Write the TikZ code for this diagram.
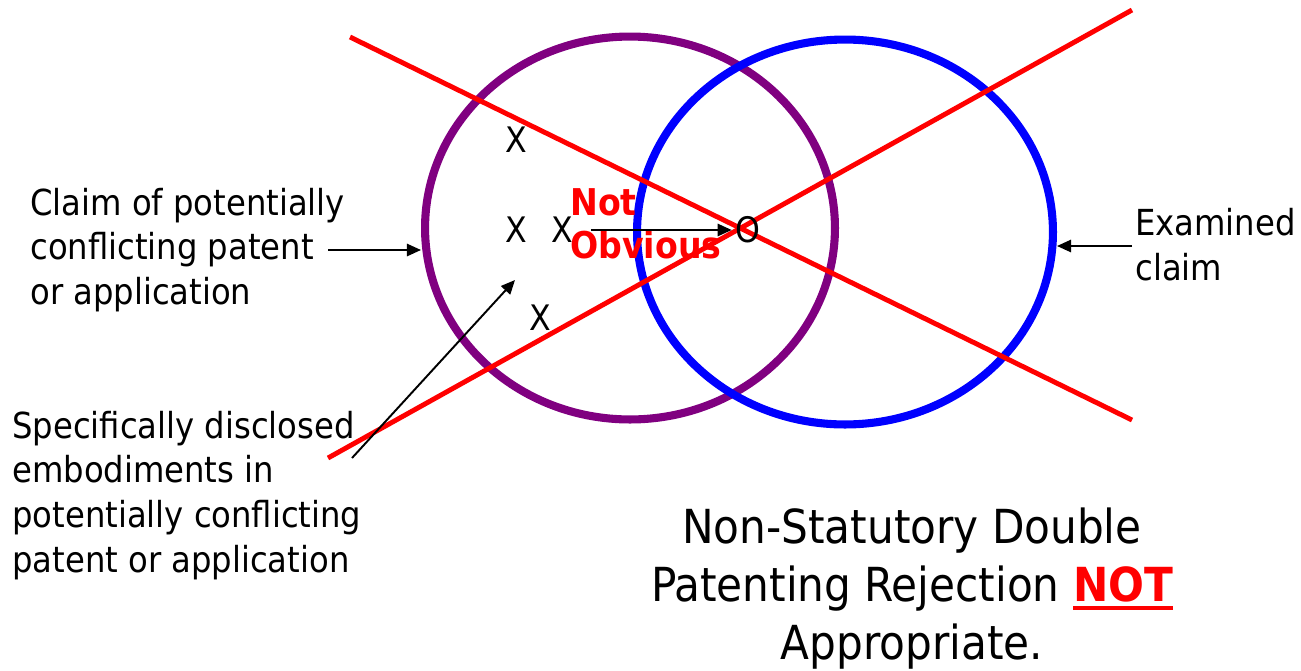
\documentclass[tikz,border=0pt]{standalone}
\usepackage{fontspec}
\setmainfont{DejaVu Sans Condensed}
\usepackage{xcolor}
\usetikzlibrary{arrows.meta,positioning,shapes.geometric}
\definecolor{setpurple}{RGB}{128,0,128}
\definecolor{setblue}{RGB}{0,0,255}
\definecolor{crossred}{RGB}{255,0,0}
\newcommand{\redstress}[1]{{\color{crossred}\bfseries\setbox0\hbox{#1}\rlap{\rule[-4.5pt]{\wd0}{2pt}}\box0}}

\begin{document}
\begin{tikzpicture}[x=0.02cm,y=-0.02cm,
  lbl/.style={align=left,inner sep=0pt,font=\fontsize{20.4}{25.5}\selectfont},
  hit/.style={inner sep=2pt,font=\fontsize{20}{22}\selectfont},
  ptr/.style={-{Triangle[length=8pt,width=7pt]},line width=1.1pt},
  cross/.style={crossred,line width=2.8pt},
  claimset/.style={ellipse,draw,line width=4.6pt,inner sep=0pt}]
\useasboundingbox (0,0) rectangle (1301,670);
\node[claimset,draw=setpurple,minimum width=8.2cm,minimum height=7.66cm] (conflict) at (630,228) {};
\node[claimset,draw=setblue,minimum width=8.32cm,minimum height=7.7cm] (examined) at (845,232) {};
\draw[cross] (350,37) -- (1132,420);
\draw[cross] (328,458) -- (1132,10);
\foreach \n/\x/\y in {1/516/140,2/516/230,3/562/230,4/540/318}{
  \node[hit] (x\n) at (\x,\y) {X};
}
\node[hit] (exam) at (748,230) {O};
\node[lbl,anchor=west,text=crossred,font=\bfseries\fontsize{21}{24.4}\selectfont] (notobv) at (570,223.5) {Not\\Obvious};
\draw[ptr,shorten <=8pt] (x3.east) -- (exam.west);
% labels
\node[lbl,anchor=west] (claimlbl) at (30,250) {Claim of potentially\\conflicting patent\\or application};
\coordinate (claimtail) at (328,250);
\draw[ptr] (claimtail) -- (conflict.west |- claimtail);
\node[lbl,anchor=west] (embodlbl) at (12,495.5) {Specifically disclosed\\embodiments in\\potentially conflicting\\patent or application};
\coordinate (embodtail) at (352,458);
\coordinate (embodhead) at (515,280);
\draw[ptr] (embodtail) -- (embodhead);
\node[lbl,anchor=west] (examlbl) at (1135,244.5) {Examined\\claim};
\coordinate (examtail) at (1132,246);
\draw[ptr] (examtail) -- (examined.east |- examtail);
\node[align=center,inner sep=0pt,font=\fontsize{26.7}{33}\selectfont] (verdict) at (912,589)
  {Non-Statutory Double\\Patenting Rejection \redstress{NOT}\\Appropriate.};
\end{tikzpicture}
\end{document}
